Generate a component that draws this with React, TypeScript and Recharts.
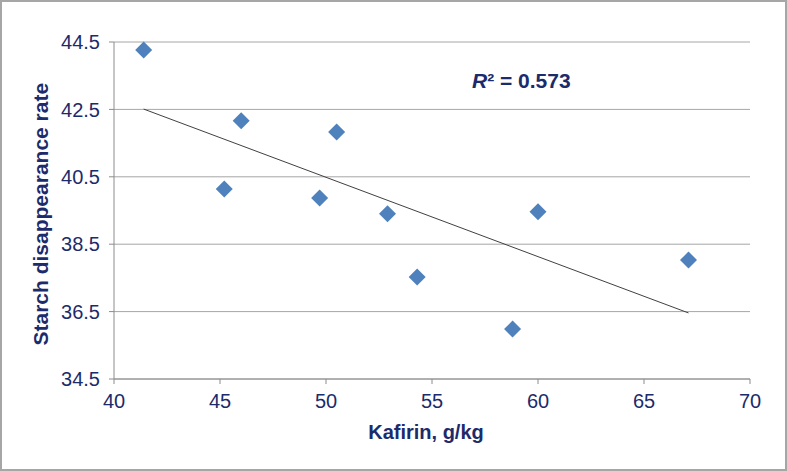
import { ScatterChart, Scatter, XAxis, YAxis, CartesianGrid } from 'recharts'

const kafirin = [41.4, 46.0, 45.2, 50.5, 49.7, 52.9, 54.3, 58.8, 60.0, 67.1]
const starchRate = [44.26, 42.16, 40.14, 41.83, 39.87, 39.4, 37.53, 35.98, 39.46, 38.03]
const trendX = [41.4, 67.1]
const trendY = [42.51, 36.46]
const xTicks = [40, 45, 50, 55, 60, 65, 70]
const yTicks = [34.5, 36.5, 38.5, 40.5, 42.5, 44.5]

const points = kafirin.map((x, i) => ({ x, y: starchRate[i] }))
const trend = trendX.map((x, i) => ({ x, y: trendY[i] }))

const navy = '#1c2b6b'

function Diamond(props: any) {
  const { cx, cy } = props
  const r = 8.5
  return (
    <polygon
      points={`${cx},${cy - r} ${cx + r},${cy} ${cx},${cy + r} ${cx - r},${cy}`}
      fill="#4f81bd"
    />
  )
}

export default function App() {
  return (
    <div style={{ position: 'absolute', left: 0, top: 0, width: 787, height: 471, background: '#fff', fontFamily: 'Liberation Sans, Arial, sans-serif' }}>
      <div style={{ position: 'absolute', left: 0, top: 0, width: 787, height: 471, border: '2px solid #a6a6a6', boxSizing: 'border-box', pointerEvents: 'none' }} />
      <ScatterChart width={787} height={471} margin={{ top: 42, right: 37, bottom: 32, left: 54 }}>
        <CartesianGrid horizontal vertical={false} stroke="#a6a6a6" />
        <XAxis
          type="number"
          dataKey="x"
          domain={[40, 70]}
          ticks={xTicks}
          height={60}
          stroke="#8c8c8c"
          tickSize={5}
          tickMargin={10}
          tick={{ fill: navy, fontSize: 20 }}
          label={{ value: 'Kafirin, g/kg', position: 'insideBottom', offset: 0, dx: -6, fill: navy, fontSize: 20, fontWeight: 'bold' }}
        />
        <YAxis
          type="number"
          dataKey="y"
          domain={[34.5, 44.5]}
          ticks={yTicks}
          width={60}
          stroke="#8c8c8c"
          tickSize={5}
          tickMargin={9}
          tick={{ fill: navy, fontSize: 20 }}
          tickFormatter={(v: number) => v.toFixed(1)}
          label={{ value: 'Starch disappearance rate', angle: -90, position: 'insideLeft', offset: 0, dx: -13, dy: 135, fill: navy, fontSize: 21, fontWeight: 'bold' }}
        />
        <Scatter data={trend} line={{ stroke: '#404040', strokeWidth: 1 }} shape={() => <g />} isAnimationActive={false} />
        <Scatter data={points} shape={Diamond} isAnimationActive={false} />
      </ScatterChart>
      <div style={{ position: 'absolute', left: 472, top: 69, color: navy, fontSize: 21, fontWeight: 'bold', whiteSpace: 'nowrap' }}>
        <i>R</i>² = 0.573
      </div>
    </div>
  )
}
